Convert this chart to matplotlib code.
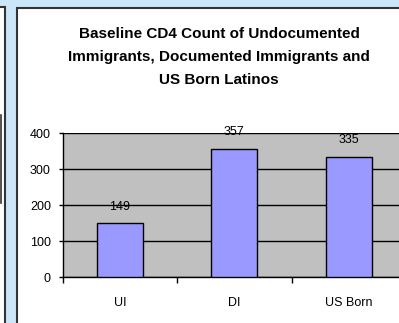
import matplotlib
matplotlib.use("Agg")
import matplotlib.pyplot as plt
from matplotlib.patches import Rectangle
from matplotlib.lines import Line2D

categories = ["UI", "DI", "US Born"]
values = [149, 357, 335]
yticks = [0, 100, 200, 300, 400]
title = "Baseline CD4 Count of Undocumented\nImmigrants, Documented Immigrants and\nUS Born Latinos"

W, H = 399, 323
fig = plt.figure(figsize=(W / 100, H / 100), dpi=100)
fig.patch.set_facecolor("#CCE6F9")
plt.rcParams["font.family"] = ["Liberation Sans", "DejaVu Sans"]

def fx(px):
    return px / W

def fy(py):
    return 1 - py / H

# left partial panel
fig.patches.append(Rectangle((fx(-20), fy(340)), fx(24.5), fy(7) - fy(340),
                             transform=fig.transFigure, facecolor="white",
                             edgecolor="#333333", linewidth=1.5, zorder=-5))
fig.lines.append(Line2D([fx(0.5), fx(0.5)], [fy(115), fy(203)], transform=fig.transFigure,
                        color="#333333", linewidth=1.2, zorder=-4))
# main panel
fig.patches.append(Rectangle((fx(16.5), fy(340)), fx(420), fy(7.5) - fy(340),
                             transform=fig.transFigure, facecolor="white",
                             edgecolor="#333333", linewidth=1.5, zorder=-5))

left, right, top, bottom = 62.7, 406.0, 133.3, 277.0
ax = fig.add_axes([fx(left), fy(bottom), fx(right - left), fy(top) - fy(bottom)], zorder=2)
ax.set_facecolor("#C0C0C0")
x = list(range(len(categories)))
ax.bar(x, values, width=0.4, color="#9999FF", edgecolor="black", linewidth=1.0, zorder=3)
ax.set_xlim(-0.5, len(categories) - 0.5)
ax.set_ylim(0, 400)
ax.set_yticks(yticks)
ax.yaxis.grid(True, color="black", linewidth=1.0, zorder=1)
ax.set_axisbelow(True)
for s in ["top", "right"]:
    ax.spines[s].set_visible(False)
for s in ["left", "bottom"]:
    ax.spines[s].set_color("black")
    ax.spines[s].set_linewidth(1.0)
ax.tick_params(axis="y", direction="out", length=3, width=1, pad=5.5, labelsize=9)
ax.set_xticks([i - 0.5 for i in x] + [len(categories) - 0.5])
ax.set_xticklabels([])
ax.tick_params(axis="x", which="major", direction="out", length=4, width=1)
ax.set_xticks(x, minor=True)
ax.set_xticklabels(categories, minor=True)
ax.tick_params(axis="x", which="minor", length=0, pad=14.5, labelsize=9)

for xi, v in zip(x, values):
    ax.annotate(str(v), (xi, v), xytext=(0, 12), textcoords="offset points",
                ha="center", va="center", fontsize=9, zorder=4)

fig.text(fx(219), fy(27), title, ha="center", va="top", fontsize=11, fontweight="bold",
         linespacing=1.82)

fig.savefig("out.png", dpi=100)
